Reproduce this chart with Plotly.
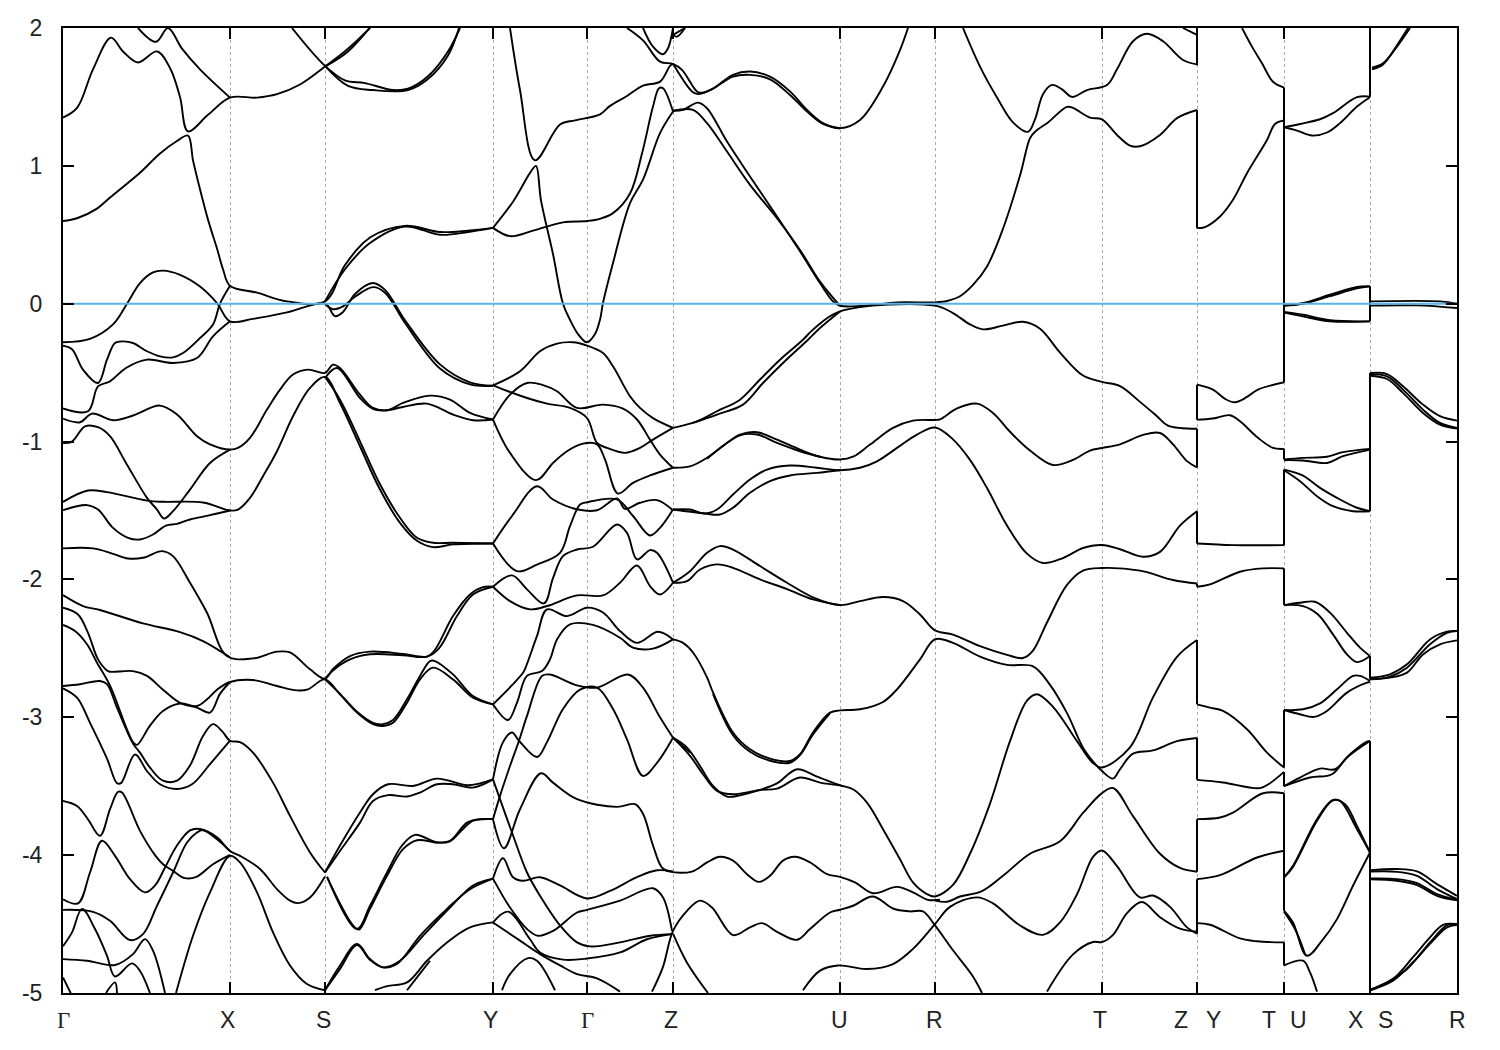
import plotly.graph_objects as go

# ---- axis content ----
path_ticks = [0, 167, 262, 430, 524, 610, 777, 872, 1039, 1134, 1221, 1307, 1394]
energy_ticks = [2, 1, 0, -1, -2, -3, -4, -5]
energy_labels = ["2", "1", "0", "-1", "-2", "-3", "-4", "-5"]
label_names = ["Γ", "X", "S", "Y", "Γ", "Z", "U", "R", "T", "Z", "Y", "T", "U", "X", "S", "R"]
label_k = [0, 164, 260, 427, 524, 608, 776, 871, 1037, 1118, 1150, 1206, 1235, 1292, 1322, 1394]

# ---- Gamma -> X -> S -> Y ----
a_k = [0, 14, 30, 48, 60, 75, 94, 107, 117, 125, 145, 167, 194, 214, 237, 262, 285, 307]
a_e = [1.35, 1.42, 1.70, 1.93, 1.83, 1.75, 1.83, 1.71, 1.50, 1.25, 1.37, 1.495, 1.495, 1.52, 1.59, 1.72, 1.85, 2.0]
a2_k = [262, 285, 310]
a2_e = [1.72, 1.83, 2.03]
b_k = [0, 14, 34, 47, 77, 97, 114, 125, 130, 137, 145, 154, 160, 167, 194, 224, 262, 282, 307, 342, 377, 405, 430]
b_e = [0.60, 0.62, 0.69, 0.77, 0.95, 1.09, 1.18, 1.22, 1.04, 0.83, 0.61, 0.40, 0.25, 0.13, 0.08, 0.017, 0.017, 0.28, 0.48, 0.565, 0.52, 0.53, 0.55]
b2_k = [262, 282, 307, 342, 377, 405, 430]
b2_e = [0.017, 0.25, 0.44, 0.56, 0.50, 0.52, 0.55]
c_k = [75, 93, 105, 119, 137, 167]
c_e = [2.0, 1.90, 2.0, 1.85, 1.70, 1.495]
c2_k = [229, 262, 282, 302, 330, 345, 365, 385, 397]
c2_e = [2.0, 1.725, 1.62, 1.60, 1.55, 1.56, 1.65, 1.83, 2.0]
c3_k = [262, 285, 310, 345, 365, 385, 396]
c3_e = [1.725, 1.58, 1.55, 1.55, 1.63, 1.80, 2.0]
d_k = [0, 27, 50, 64, 77, 90, 100, 117, 137, 154, 167, 190, 224, 262, 272, 280, 292, 310, 322, 342, 377, 407, 430]
d_e = [-0.28, -0.255, -0.15, 0.0, 0.15, 0.227, 0.24, 0.21, 0.125, 0.005, -0.128, -0.11, -0.063, 0.0, -0.09, -0.06, 0.07, 0.15, 0.10, -0.12, -0.44, -0.57, -0.595]
d2_k = [262, 270, 280, 292, 310, 322, 342, 377, 407, 430]
d2_e = [0.0, -0.04, -0.02, 0.05, 0.12, 0.08, -0.14, -0.47, -0.585, -0.595]
e_k = [0, 9, 20, 35, 44, 52, 60, 70, 84, 97, 110, 120, 137, 150, 157, 167]
e_e = [-0.305, -0.33, -0.478, -0.575, -0.406, -0.285, -0.273, -0.285, -0.345, -0.382, -0.389, -0.358, -0.249, -0.15, 0.0, 0.13]
f_k = [0, 25, 35, 47, 63, 84, 110, 134, 150, 167]
f_e = [-0.76, -0.78, -0.60, -0.563, -0.466, -0.406, -0.43, -0.394, -0.237, -0.128]
g_k = [0, 17, 29, 50, 70, 97, 114, 134, 147, 167, 175, 187, 204, 217, 230, 245, 262, 270, 277, 297, 310, 324, 340, 367, 387, 407, 430]
g_e = [-0.833, -0.86, -0.797, -0.845, -0.811, -0.739, -0.804, -0.961, -1.02, -1.058, -1.046, -0.973, -0.768, -0.623, -0.514, -0.478, -0.502, -0.442, -0.466, -0.66, -0.756, -0.773, -0.72, -0.667, -0.696, -0.792, -0.84]
g2_k = [262, 274, 297, 310, 324, 340, 364, 390, 410, 430]
g2_e = [-0.539, -0.466, -0.684, -0.763, -0.773, -0.749, -0.725, -0.804, -0.845, -0.84]
h_k = [0, 9, 22, 35, 47, 63, 84, 94, 101, 110, 127, 147, 167]
h_e = [-1.01, -1.0, -0.889, -0.896, -0.961, -1.155, -1.408, -1.493, -1.558, -1.505, -1.348, -1.155, -1.058]
i_k = [0, 25, 44, 84, 100, 140, 167, 175, 187, 200, 214, 230, 247, 262, 277, 297, 317, 337, 354, 370, 390, 430]
i_e = [-1.437, -1.355, -1.367, -1.428, -1.437, -1.442, -1.50, -1.493, -1.408, -1.251, -1.07, -0.816, -0.611, -0.531, -0.72, -1.034, -1.348, -1.59, -1.72, -1.766, -1.746, -1.739]
i2_k = [262, 277, 297, 317, 337, 354, 370, 390, 430]
i2_e = [-0.531, -0.696, -0.998, -1.31, -1.553, -1.698, -1.734, -1.734, -1.739]
j_k = [0, 24, 35, 50, 65, 77, 90, 103, 114, 127, 147, 167]
j_e = [-1.498, -1.461, -1.493, -1.626, -1.698, -1.71, -1.674, -1.609, -1.597, -1.565, -1.534, -1.50]
k_k = [0, 30, 50, 65, 80, 99, 110, 127, 144, 164, 190, 214, 227, 247, 262, 270, 287, 307, 340, 364, 372, 390, 407, 420, 430]
k_e = [-1.775, -1.775, -1.814, -1.848, -1.843, -1.795, -1.831, -2.024, -2.242, -2.556, -2.573, -2.524, -2.53, -2.652, -2.72, -2.65, -2.556, -2.524, -2.54, -2.56, -2.51, -2.266, -2.109, -2.056, -2.053]
k2_k = [262, 270, 287, 307, 340, 364, 376, 394, 410, 430]
k2_e = [-2.72, -2.66, -2.58, -2.543, -2.55, -2.56, -2.50, -2.266, -2.109, -2.053]
l_k = [0, 20, 37, 80, 117, 140, 167]
l_e = [-2.114, -2.193, -2.222, -2.319, -2.382, -2.447, -2.565]
m_k = [0, 15, 25, 35, 44, 47, 70, 84, 100, 117, 134, 147, 157, 167]
m_e = [-2.205, -2.254, -2.387, -2.58, -2.66, -2.67, -2.665, -2.70, -2.80, -2.895, -2.93, -2.966, -2.83, -2.744]
n_k = [0, 12, 24, 34, 47, 70, 74, 87, 100, 117, 134, 144, 154, 167, 190, 214, 234, 245, 262, 277, 294, 310, 320, 330, 344, 357, 370, 390, 410, 430]
n_e = [-2.33, -2.374, -2.47, -2.604, -2.77, -3.18, -3.20, -3.06, -2.954, -2.90, -2.918, -2.87, -2.80, -2.744, -2.73, -2.773, -2.805, -2.797, -2.725, -2.834, -2.966, -3.05, -3.063, -3.04, -2.894, -2.725, -2.64, -2.725, -2.858, -2.906]
n2_k = [262, 277, 294, 310, 320, 330, 344, 357, 367, 372, 390, 410, 430]
n2_e = [-2.725, -2.83, -2.96, -3.04, -3.05, -3.02, -2.87, -2.70, -2.592, -2.592, -2.689, -2.846, -2.906]
o_k = [0, 17, 37, 44, 54, 70, 77, 87, 100, 114, 127, 140, 150, 159, 167, 177, 190, 210, 227, 247, 262]
o_e = [-2.773, -2.76, -2.737, -2.76, -2.93, -3.19, -3.256, -3.365, -3.46, -3.46, -3.35, -3.136, -3.05, -3.10, -3.17, -3.18, -3.256, -3.474, -3.715, -3.98, -4.126]
p_k = [0, 14, 27, 44, 54, 58, 72, 84, 97, 114, 129, 147, 167]
p_e = [-2.79, -2.858, -3.04, -3.30, -3.478, -3.478, -3.27, -3.39, -3.486, -3.52, -3.486, -3.34, -3.17]
q_k = [0, 14, 25, 37, 47, 55, 59, 77, 92, 100, 110, 122, 134, 150, 167]
q_e = [-3.607, -3.643, -3.74, -3.86, -3.667, -3.541, -3.546, -3.824, -4.0, -4.066, -4.114, -4.167, -4.155, -4.066, -3.998]
r_k = [0, 15, 27, 39, 52, 67, 82, 92, 102, 114, 127, 137, 154, 167, 177, 197, 214, 227, 235, 247, 262]
r_e = [-4.32, -4.35, -4.126, -3.896, -4.005, -4.174, -4.27, -4.22, -4.09, -3.93, -3.82, -3.81, -3.87, -3.97, -4.005, -4.10, -4.247, -4.33, -4.348, -4.307, -4.155]
s_k = [0, 30, 47, 67, 80, 94, 110, 124, 134, 140, 154, 167]
s_e = [-4.397, -4.411, -4.476, -4.616, -4.573, -4.367, -4.126, -3.908, -3.836, -3.819, -3.884, -3.97]
t_k = [0, 9, 19, 32, 44, 52, 69, 77, 87]
t_e = [-4.66, -4.56, -4.39, -4.536, -4.73, -4.88, -4.785, -4.84, -5.0]
u_k = [0, 24, 52, 70, 82, 90, 102]
u_e = [-4.754, -4.766, -4.797, -4.718, -4.609, -4.693, -5.0]
v_k = [0, 9]
v_e = [-4.887, -5.02]
v2_k = [43, 52, 54]
v2_e = [-5.0, -4.923, -5.0]
w_k = [113, 130, 147, 167, 177, 194, 210, 227, 244, 262]
w_e = [-5.0, -4.585, -4.27, -4.005, -4.053, -4.27, -4.56, -4.80, -4.935, -4.98]

# ---- S -> Y lower bands ----
sc_k = [262, 277, 297, 310, 325, 350, 374, 404, 417, 430]
sc_e = [-4.126, -3.93, -3.69, -3.558, -3.486, -3.498, -3.445, -3.493, -3.479, -3.45]
sd_k = [262, 277, 297, 310, 325, 344, 357, 374, 390, 410, 430]
sd_e = [-4.126, -3.97, -3.764, -3.607, -3.565, -3.575, -3.546, -3.486, -3.486, -3.51, -3.45]
se_k = [264, 294, 307, 324, 339, 352, 374, 387, 404, 417, 430]
se_e = [-4.155, -4.536, -4.367, -4.126, -3.93, -3.853, -3.908, -3.896, -3.764, -3.739, -3.739]
sf_k = [264, 290, 296, 307, 324, 340, 354, 374, 387, 400, 410, 430]
sf_e = [-4.16, -4.51, -4.54, -4.39, -4.15, -3.957, -3.892, -3.908, -3.90, -3.81, -3.75, -3.739]
sg_k = [262, 277, 294, 307, 320, 334, 357, 384, 407, 430]
sg_e = [-4.98, -4.80, -4.645, -4.754, -4.814, -4.79, -4.585, -4.39, -4.247, -4.17]
sh_k = [262, 277, 294, 307, 320, 337, 360, 387, 410, 430]
sh_e = [-4.98, -4.825, -4.652, -4.76, -4.814, -4.766, -4.585, -4.38, -4.22, -4.17]
si_k = [312, 324, 344, 364, 384, 407, 430]
si_e = [-4.98, -4.95, -4.923, -4.766, -4.633, -4.524, -4.488]
sj_k = [344, 354, 367]
sj_e = [-4.98, -4.887, -4.766]

# ---- Y -> Gamma -> Z ----
ya_k = [430, 457, 477, 494, 510, 524, 540, 550, 567, 577, 590, 610]
ya_e = [-0.592, -0.49, -0.345, -0.29, -0.28, -0.304, -0.358, -0.454, -0.671, -0.756, -0.83, -0.901]
yb_k = [430, 445, 464, 484, 507, 524, 534, 544, 562, 577, 590, 610]
yb_e = [-0.592, -0.635, -0.684, -0.725, -0.756, -0.829, -1.01, -1.046, -1.082, -1.046, -0.986, -0.901]
yc_k = [430, 447, 464, 480, 494, 514, 540, 560, 574, 587, 597, 610]
yc_e = [-0.84, -0.66, -0.575, -0.59, -0.635, -0.756, -0.732, -0.761, -0.84, -0.986, -1.094, -1.19]
yd_k = [430, 447, 473, 490, 504, 520, 534, 542, 555, 570, 587, 610]
yd_e = [-0.84, -1.082, -1.28, -1.155, -1.07, -1.015, -1.02, -1.13, -1.377, -1.30, -1.246, -1.19]
ye_k = [430, 449, 474, 490, 515, 534, 554, 562, 577, 594, 610]
ye_e = [-1.739, -1.54, -1.324, -1.42, -1.493, -1.498, -1.413, -1.488, -1.444, -1.425, -1.498]
yf_k = [430, 454, 474, 497, 507, 517, 524, 554, 570, 587, 597, 610]
yf_e = [-1.739, -1.94, -1.892, -1.807, -1.614, -1.457, -1.44, -1.42, -1.54, -1.681, -1.626, -1.493]
yg_k = [430, 449, 464, 481, 490, 500, 514, 530, 554, 564, 574, 587, 594, 610]
yg_e = [-2.053, -1.971, -2.072, -2.174, -1.99, -1.831, -1.783, -1.763, -1.602, -1.662, -1.855, -1.787, -1.807, -2.024]
yh_k = [430, 447, 467, 484, 514, 540, 557, 574, 587, 597, 610]
yh_e = [-2.053, -2.157, -2.217, -2.193, -2.116, -2.116, -2.024, -1.899, -2.048, -2.109, -2.024]
yi_k = [430, 450, 460, 462, 474, 484, 504, 524, 540, 557, 574, 595, 610]
yi_e = [-2.906, -2.76, -2.677, -2.65, -2.41, -2.217, -2.266, -2.205, -2.24, -2.374, -2.46, -2.38, -2.435]
yj_k = [430, 445, 454, 464, 479, 487, 494, 507, 530, 557, 570, 590, 610]
yj_e = [-2.906, -3.02, -2.894, -2.70, -2.665, -2.58, -2.435, -2.326, -2.33, -2.423, -2.495, -2.502, -2.435]
ym_k = [430, 440, 449, 456, 474, 484, 500, 517, 534, 550, 564, 580, 594, 610]
ym_e = [-3.45, -3.18, -3.11, -3.17, -3.288, -3.18, -2.94, -2.80, -2.785, -2.94, -3.16, -3.425, -3.33, -3.148]
yn_k = [430, 449, 464, 477, 497, 514, 527, 557, 587, 609]
yn_e = [-3.45, -3.836, -4.126, -4.295, -4.51, -4.633, -4.662, -4.633, -4.585, -4.573]
yo_k = [430, 441, 457, 478, 490, 514, 554, 572, 580, 590, 599, 607, 629, 644, 657, 670, 684, 696, 707, 720, 732, 747, 764, 777, 792, 810, 834, 850, 865, 877]
yo_e = [-3.739, -3.95, -3.667, -3.406, -3.474, -3.594, -3.65, -3.63, -3.70, -3.93, -4.09, -4.12, -4.119, -4.053, -4.012, -4.04, -4.138, -4.194, -4.15, -4.04, -4.012, -4.053, -4.138, -4.157, -4.198, -4.276, -4.23, -4.27, -4.324, -4.324]
yp_k = [430, 437, 447, 456, 464, 479, 487, 514, 534, 565, 580, 597, 610]
yp_e = [-3.739, -3.57, -3.353, -3.17, -2.99, -2.70, -2.69, -2.768, -2.785, -2.69, -2.785, -3.0, -3.148]
yq_k = [430, 440, 450, 460, 477, 497, 524, 547, 574, 594, 610]
yq_e = [-4.17, -4.022, -4.16, -4.186, -4.16, -4.22, -4.314, -4.26, -4.16, -4.11, -4.119]
yr_k = [430, 447, 464, 475, 490, 514, 524, 557, 590, 600, 609]
yr_e = [-4.17, -4.38, -4.536, -4.585, -4.55, -4.416, -4.397, -4.33, -4.24, -4.307, -4.55]
ys_k = [430, 445, 467, 477, 500, 524, 557, 584, 609]
ys_e = [-4.488, -4.41, -4.61, -4.706, -4.758, -4.75, -4.706, -4.61, -4.573]
yt_k = [430, 457, 477, 497, 514, 534, 557]
yt_e = [-4.488, -4.62, -4.718, -4.80, -4.863, -4.894, -4.99]
yu_k = [439, 447, 465, 474, 492]
yu_e = [-4.98, -4.863, -4.747, -4.766, -4.98]
yv_k = [589, 600, 610, 624, 637, 649, 670, 687, 699, 714, 734, 747, 767, 777, 790, 810, 830, 847, 860, 872, 890, 909, 919]
yv_e = [-4.99, -4.81, -4.55, -4.404, -4.33, -4.38, -4.58, -4.524, -4.493, -4.556, -4.614, -4.536, -4.416, -4.396, -4.367, -4.30, -4.387, -4.408, -4.408, -4.51, -4.69, -4.87, -5.0]
yw_k = [610, 624, 645]
yw_e = [-4.57, -4.78, -5.0]
yx_k = [430, 447, 470, 500, 524, 537, 550, 567, 579, 590, 596, 600, 610]
yx_e = [0.55, 0.49, 0.53, 0.59, 0.60, 0.616, 0.657, 0.80, 1.09, 1.43, 1.563, 1.563, 1.394]
gz_k = [430, 450, 468, 473, 478, 490, 500, 507, 515, 524, 532, 537, 540, 550, 567, 580, 597, 610]
gz_e = [0.55, 0.74, 0.96, 1.0, 0.75, 0.36, 0.0, -0.116, -0.22, -0.28, -0.22, -0.116, 0.005, 0.295, 0.73, 0.9, 1.237, 1.394]
gy_k = [447, 457, 472, 497, 512, 537, 547, 564, 580, 597, 607, 610]
gy_e = [2.0, 1.55, 1.04, 1.30, 1.33, 1.374, 1.435, 1.507, 1.582, 1.611, 1.725, 1.74]

# ---- Z -> U -> R -> T -> Z ----
t1_k = [564, 580, 597, 610, 619, 634, 639, 650, 670, 687, 707, 727, 744, 760, 777, 797, 820, 837, 845]
t1_e = [2.0, 1.91, 1.756, 1.74, 1.696, 1.54, 1.53, 1.56, 1.66, 1.684, 1.647, 1.54, 1.406, 1.31, 1.273, 1.333, 1.575, 1.84, 2.0]
t2_k = [610, 629, 635, 650, 670, 687, 707, 727, 744, 760, 777]
t2_e = [1.74, 1.54, 1.52, 1.56, 1.647, 1.66, 1.628, 1.514, 1.394, 1.304, 1.273]
t3_k = [580, 590, 600, 605, 610]
t3_e = [2.0, 1.865, 1.81, 1.853, 2.0]
t4_k = [610, 614, 622]
t4_e = [1.95, 1.937, 2.0]
t5_k = [610, 622]
t5_e = [1.95, 2.0]
za_k = [610, 620, 635, 644, 664, 687, 714, 737, 757, 770, 777, 800, 834, 872, 884, 897, 910, 924, 940, 957, 967, 972, 985, 1004, 1010, 1027, 1039, 1054, 1067, 1077, 1097, 1114, 1134]
za_e = [1.40, 1.406, 1.459, 1.418, 1.176, 0.923, 0.633, 0.38, 0.15, 0.017, -0.015, -0.015, 0.01, 0.01, 0.02, 0.054, 0.136, 0.27, 0.544, 0.93, 1.20, 1.247, 1.315, 1.428, 1.42, 1.35, 1.337, 1.224, 1.147, 1.142, 1.224, 1.346, 1.405]
zb_k = [610, 630, 644, 664, 687, 714, 737, 757, 777]
zb_e = [1.40, 1.406, 1.31, 1.104, 0.862, 0.62, 0.39, 0.16, -0.015]
zt_k = [900, 917, 934, 950, 965, 972, 980, 989, 999, 1009, 1024, 1044, 1054, 1070, 1084, 1100, 1120, 1134]
zt_e = [2.0, 1.72, 1.496, 1.315, 1.247, 1.337, 1.52, 1.587, 1.555, 1.50, 1.55, 1.587, 1.70, 1.904, 1.958, 1.904, 1.768, 1.736]
zu_k = [1120, 1134]
zu_e = [2.0, 1.95]
la_k = [610, 634, 654, 677, 697, 717, 740, 750, 777, 872, 890, 907, 920, 940, 960, 977, 997, 1020, 1039, 1057, 1077, 1094, 1105, 1134]
la_e = [-0.901, -0.853, -0.78, -0.696, -0.55, -0.406, -0.261, -0.188, -0.056, -0.014, -0.068, -0.15, -0.186, -0.159, -0.131, -0.181, -0.354, -0.521, -0.567, -0.598, -0.712, -0.816, -0.884, -0.907]
lb_k = [630, 654, 680, 700, 720, 745, 757, 777]
lb_e = [-0.865, -0.804, -0.732, -0.575, -0.43, -0.261, -0.176, -0.056]
zd_k = [610, 627, 644, 664, 677, 694, 714, 737, 757, 777, 790, 807, 830, 850, 872, 877, 894, 914, 930, 947, 967, 990, 1010, 1027, 1039, 1057, 1080, 1097, 1110, 1124, 1134]
zd_e = [-1.19, -1.18, -1.118, -1.01, -0.949, -0.932, -0.986, -1.058, -1.11, -1.13, -1.11, -1.022, -0.901, -0.848, -0.843, -0.839, -0.76, -0.725, -0.793, -0.929, -1.065, -1.17, -1.133, -1.065, -1.047, -1.02, -0.952, -0.938, -1.02, -1.142, -1.188]
zd2_k = [644, 677, 694, 714, 737, 757]
zd2_e = [-1.125, -0.955, -0.949, -1.01, -1.07, -1.11]
ze_k = [610, 627, 642, 654, 670, 687, 704, 727, 754, 777, 797, 814, 834, 854, 872, 890, 907, 924, 944, 964, 980, 1000, 1020, 1039, 1057, 1080, 1097, 1117, 1134]
ze_e = [-1.493, -1.493, -1.522, -1.493, -1.384, -1.275, -1.203, -1.174, -1.19, -1.208, -1.19, -1.143, -1.046, -0.949, -0.898, -0.984, -1.133, -1.337, -1.609, -1.813, -1.881, -1.845, -1.772, -1.75, -1.781, -1.836, -1.80, -1.609, -1.505]
zf_k = [610, 642, 657, 670, 687, 707, 727, 754, 777]
zf_e = [-1.493, -1.522, -1.529, -1.48, -1.372, -1.287, -1.246, -1.227, -1.208]
zg_k = [610, 627, 644, 657, 670, 697, 724, 750, 777, 797, 820, 840, 857, 872, 890, 917, 944, 960, 970, 984, 1004, 1020, 1039, 1077, 1110, 1134]
zg_e = [-2.024, -1.94, -1.807, -1.758, -1.783, -1.903, -2.024, -2.13, -2.186, -2.157, -2.128, -2.157, -2.254, -2.37, -2.40, -2.484, -2.547, -2.57, -2.516, -2.312, -2.04, -1.936, -1.917, -1.936, -2.004, -2.03]
zh_k = [610, 624, 637, 654, 670, 697, 724, 750, 777]
zh_e = [-2.024, -2.012, -1.928, -1.891, -1.916, -2.0, -2.07, -2.145, -2.186]
zi_k = [610, 620, 630, 644, 650, 670, 687, 707, 727, 737, 750, 767, 777, 797, 820, 834, 857, 872, 890, 917, 944, 970, 987, 1004, 1020, 1030, 1039, 1050, 1057, 1070, 1090, 1114, 1134]
zi_e = [-2.435, -2.46, -2.53, -2.71, -2.82, -3.11, -3.232, -3.30, -3.317, -3.268, -3.11, -2.966, -2.95, -2.942, -2.889, -2.797, -2.58, -2.434, -2.46, -2.56, -2.62, -2.63, -2.765, -2.97, -3.22, -3.32, -3.39, -3.445, -3.377, -3.264, -3.24, -3.173, -3.15]
zi2_k = [650, 670, 687, 707, 727, 737, 750, 767]
zi2_e = [-2.83, -3.13, -3.25, -3.315, -3.33, -3.275, -3.125, -2.97]
zj_k = [610, 624, 637, 650, 664, 677, 697, 714, 734, 754, 777, 790, 804, 820, 837, 850, 864, 872, 890, 907, 927, 947, 964, 974, 990, 1014, 1030, 1039, 1067, 1090, 1114, 1134]
zj_e = [-3.148, -3.22, -3.353, -3.498, -3.575, -3.566, -3.527, -3.48, -3.377, -3.43, -3.493, -3.522, -3.619, -3.812, -4.03, -4.198, -4.283, -4.30, -4.216, -3.99, -3.626, -3.173, -2.879, -2.833, -2.924, -3.173, -3.332, -3.364, -3.218, -2.856, -2.561, -2.439]
zk_k = [610, 627, 640, 654, 670, 697, 714, 737, 757, 777]
zk_e = [-3.148, -3.28, -3.413, -3.534, -3.558, -3.527, -3.517, -3.437, -3.474, -3.493]
zl_k = [872, 884, 897, 919, 944, 967, 997, 1020, 1039, 1050, 1070, 1097, 1117, 1134]
zl_e = [-4.33, -4.338, -4.30, -4.261, -4.125, -3.99, -3.90, -3.694, -3.55, -3.513, -3.717, -3.99, -4.093, -4.12]
zo_k = [740, 757, 775, 804, 830, 850, 872, 887, 914, 930, 957, 980, 997, 1014, 1030, 1039, 1054, 1077, 1090, 1107, 1124, 1134]
zo_e = [-4.98, -4.838, -4.80, -4.826, -4.79, -4.68, -4.50, -4.375, -4.306, -4.35, -4.51, -4.578, -4.488, -4.284, -4.012, -3.966, -4.08, -4.306, -4.293, -4.375, -4.524, -4.57]
zp_k = [984, 1010, 1030, 1039, 1050, 1064, 1079, 1097, 1117, 1134]
zp_e = [-4.99, -4.72, -4.63, -4.63, -4.578, -4.42, -4.34, -4.45, -4.533, -4.555]
zq_k = [610, 627]
zq_e = [-3.148, -3.256]

# ---- Y -> T ----
ta_k = [1179, 1189, 1199, 1210, 1221]
ta_e = [2.0, 1.865, 1.744, 1.61, 1.568]
tb_k = [1134, 1142, 1157, 1170, 1184, 1204, 1212, 1221]
tb_e = [0.548, 0.556, 0.633, 0.754, 0.947, 1.188, 1.304, 1.329]
tc_k = [1134, 1150, 1162, 1172, 1184, 1195, 1221]
tc_e = [-0.587, -0.623, -0.69, -0.715, -0.676, -0.623, -0.57]
td_k = [1134, 1150, 1167, 1177, 1195, 1210, 1221]
td_e = [-0.841, -0.833, -0.809, -0.853, -0.973, -1.046, -1.053]
te_k = [1134, 1170, 1221]
te_e = [-1.739, -1.751, -1.751]
tf_k = [1134, 1147, 1177, 1200, 1221]
tf_e = [-2.053, -2.036, -1.944, -1.92, -1.92]
tg_k = [1134, 1147, 1160, 1184, 1204, 1221]
tg_e = [-2.906, -2.93, -2.954, -3.087, -3.256, -3.365]
th_k = [1134, 1160, 1197, 1207, 1221]
th_e = [-3.454, -3.473, -3.514, -3.478, -3.396]
ti_k = [1134, 1157, 1170, 1200, 1221]
ti_e = [-3.739, -3.727, -3.691, -3.551, -3.551]
tj_k = [1134, 1157, 1194, 1221]
tj_e = [-4.174, -4.145, -4.017, -3.968]
tk_k = [1134, 1147, 1177, 1194, 1221]
tk_e = [-4.493, -4.505, -4.604, -4.625, -4.633]

# ---- U -> X ----
ua_k = [1221, 1237, 1257, 1270, 1294, 1307]
ua_e = [1.28, 1.304, 1.338, 1.382, 1.498, 1.502]
ub_k = [1221, 1234, 1249, 1264, 1277, 1294, 1307]
ub_e = [1.28, 1.256, 1.22, 1.242, 1.31, 1.43, 1.498]
uc_k = [1221, 1240, 1267, 1294, 1307]
uc_e = [-0.014, 0.005, 0.065, 0.121, 0.126]
uc2_k = [1221, 1240, 1267, 1294, 1307]
uc2_e = [-0.014, 0.0, 0.055, 0.111, 0.126]
ud_k = [1221, 1240, 1267, 1307]
ud_e = [-0.06, -0.08, -0.12, -0.128]
ud2_k = [1221, 1240, 1267, 1307]
ud2_e = [-0.065, -0.092, -0.128, -0.128]
ue_k = [1221, 1240, 1264, 1280, 1307]
ue_e = [-1.13, -1.118, -1.11, -1.077, -1.053]
uf_k = [1221, 1240, 1264, 1280, 1307]
uf_e = [-1.135, -1.137, -1.155, -1.106, -1.058]
ug_k = [1221, 1240, 1257, 1277, 1294, 1307]
ug_e = [-1.203, -1.247, -1.336, -1.42, -1.48, -1.505]
uh_k = [1221, 1237, 1254, 1270, 1290, 1307]
uh_e = [-1.208, -1.287, -1.396, -1.469, -1.505, -1.505]
ui_k = [1221, 1237, 1252, 1267, 1284, 1297, 1307]
ui_e = [-2.186, -2.169, -2.162, -2.241, -2.387, -2.495, -2.556]
uj_k = [1221, 1240, 1255, 1270, 1284, 1294, 1307]
uj_e = [-2.186, -2.193, -2.254, -2.399, -2.544, -2.6, -2.556]
uk_k = [1221, 1240, 1257, 1274, 1290, 1297, 1307]
uk_e = [-2.947, -2.942, -2.899, -2.797, -2.70, -2.70, -2.737]
ul_k = [1221, 1237, 1251, 1264, 1284, 1304, 1307]
ul_e = [-2.947, -2.978, -2.997, -2.954, -2.821, -2.749, -2.744]
um_k = [1221, 1237, 1257, 1272, 1287, 1304, 1307]
um_e = [-3.5, -3.437, -3.372, -3.377, -3.268, -3.176, -3.172]
un_k = [1221, 1247, 1269, 1284, 1307]
un_e = [-3.5, -3.437, -3.413, -3.292, -3.172]
uo_k = [1221, 1230, 1254, 1270, 1282, 1294, 1307]
uo_e = [-4.162, -4.077, -3.739, -3.599, -3.631, -3.788, -3.981]
uo2_k = [1221, 1230, 1254, 1269, 1277, 1294, 1307]
uo2_e = [-4.162, -4.085, -3.75, -3.606, -3.606, -3.812, -3.981]
up_k = [1221, 1230, 1244, 1259, 1274, 1290, 1307]
up_e = [-4.403, -4.488, -4.73, -4.62, -4.464, -4.222, -3.981]
up2_k = [1221, 1232, 1242]
up2_e = [-4.41, -4.536, -4.717]
uq_k = [1221, 1240, 1247, 1254]
uq_e = [-4.80, -4.766, -4.85, -4.99]

# ---- S -> R ----
ra_k = [1309, 1320, 1334, 1347]
ra_e = [1.713, 1.744, 1.865, 2.0]
ra2_k = [1309, 1320, 1334, 1345]
ra2_e = [1.70, 1.735, 1.875, 2.0]
rs_k = [1307, 1377, 1394]
rs_e = [0.017, 0.017, 0.0]
rt_k = [1307, 1354, 1394]
rt_e = [-0.014, -0.012, -0.031]
ru_k = [1307, 1324, 1340, 1360, 1377, 1394]
ru_e = [-0.502, -0.51, -0.599, -0.732, -0.816, -0.848]
ru2_k = [1307, 1324, 1340, 1360, 1377, 1394]
ru2_e = [-0.51, -0.527, -0.623, -0.768, -0.865, -0.901]
ru3_k = [1307, 1324, 1340, 1360, 1377, 1394]
ru3_e = [-0.522, -0.546, -0.647, -0.792, -0.877, -0.906]
rv_k = [1307, 1327, 1344, 1367, 1384, 1394]
rv_e = [-2.713, -2.688, -2.616, -2.435, -2.379, -2.374]
rv2_k = [1307, 1327, 1344, 1367, 1384, 1394]
rv2_e = [-2.725, -2.705, -2.64, -2.47, -2.387, -2.374]
rw_k = [1307, 1327, 1344, 1360, 1377, 1394]
rw_e = [-2.725, -2.712, -2.676, -2.544, -2.471, -2.442]
ry_k = [1307, 1334, 1354, 1374, 1394]
ry_e = [-4.109, -4.101, -4.118, -4.21, -4.295]
ry2_k = [1307, 1334, 1354, 1374, 1394]
ry2_e = [-4.119, -4.121, -4.15, -4.246, -4.319]
ry3_k = [1307, 1334, 1354, 1374, 1394]
ry3_e = [-4.169, -4.174, -4.203, -4.283, -4.324]
ry4_k = [1307, 1334, 1354, 1374, 1394]
ry4_e = [-4.175, -4.186, -4.217, -4.295, -4.328]
rz_k = [1307, 1327, 1344, 1367, 1384, 1394]
rz_e = [-4.978, -4.91, -4.826, -4.633, -4.507, -4.5]
rz2_k = [1307, 1330, 1350, 1370, 1384, 1394]
rz2_e = [-4.98, -4.91, -4.777, -4.62, -4.524, -4.507]
rz3_k = [1307, 1330, 1350, 1367, 1380, 1394]
rz3_e = [-4.98, -4.898, -4.74, -4.597, -4.505, -4.5]

# ---- vertical jumps where the path is discontinuous ----
jump_z_y = [(2.0, 1.73), (1.405, 0.548), (-0.587, -0.841), (-0.907, -1.188), (-1.505, -1.739),
            (-2.03, -2.053), (-2.439, -2.906), (-3.15, -3.454), (-3.739, -4.12), (-4.174, -4.57)]
jump_t_u = [(1.568, -0.57), (-1.053, -1.13), (-1.203, -1.751), (-1.92, -2.186), (-2.947, -3.365),
            (-3.396, -3.5), (-3.551, -4.403), (-4.633, -4.80)]
jump_x_s = [(2.0, 1.502), (0.126, -0.128), (-0.502, -1.053), (-1.053, -1.505), (-2.556, -2.725),
            (-3.172, -4.98)]

fig = go.Figure()
for name in list(globals()):
    if name.endswith("_k") and name not in ("path_ticks", "label_k") and name[:-2] + "_e" in globals():
        fig.add_trace(go.Scatter(
            x=globals()[name], y=globals()[name[:-2] + "_e"], mode="lines", hoverinfo="skip",
            line=dict(color="black", width=1.9, shape="spline", smoothing=1.0),
            showlegend=False))

for pos, jumps in ((1134, jump_z_y), (1221, jump_t_u), (1307, jump_x_s)):
    for top, bottom in jumps:
        fig.add_trace(go.Scatter(x=[pos, pos], y=[top, bottom], mode="lines", hoverinfo="skip",
                                 line=dict(color="black", width=2), showlegend=False))

fig.add_trace(go.Scatter(x=[path_ticks[0], path_ticks[-1]], y=[0, 0], mode="lines", hoverinfo="skip",
                         line=dict(color="#56B4E9", width=2), showlegend=False))

for name, pos in zip(label_names, label_k):
    fig.add_annotation(x=pos, xref="x", y=0, yref="paper", yshift=-27, yanchor="middle", xanchor="center",
                       text=name, showarrow=False,
                       font=dict(family="Liberation Serif" if name == "Γ" else "Liberation Sans",
                                 size=23, color="#222222"))

fig.update_xaxes(range=[path_ticks[0], path_ticks[-1]], tickmode="array", tickvals=path_ticks,
                 ticktext=[""] * len(path_ticks), ticks="inside", ticklen=11, tickwidth=1.8,
                 tickcolor="black", showline=True, linewidth=2, linecolor="black", mirror="ticks",
                 showgrid=True, gridcolor="#aaaaaa", griddash="dot", gridwidth=1, zeroline=False)
fig.update_yaxes(range=[-5, 2], tickmode="array", tickvals=energy_ticks, ticktext=energy_labels,
                 ticks="inside", ticklen=11, tickwidth=1.8, tickcolor="black", showline=True,
                 linewidth=2, linecolor="black", mirror="ticks", showgrid=False, zeroline=False,
                 ticklabelstandoff=14, tickfont=dict(family="Liberation Sans", size=23, color="#222222"))
fig.update_layout(width=1500, height=1050, margin=dict(l=63, r=43, t=28, b=57),
                  paper_bgcolor="white", plot_bgcolor="white")
fig.write_html("out.html", config={"displayModeBar": False}, post_script="document.body.style.margin='0';")
